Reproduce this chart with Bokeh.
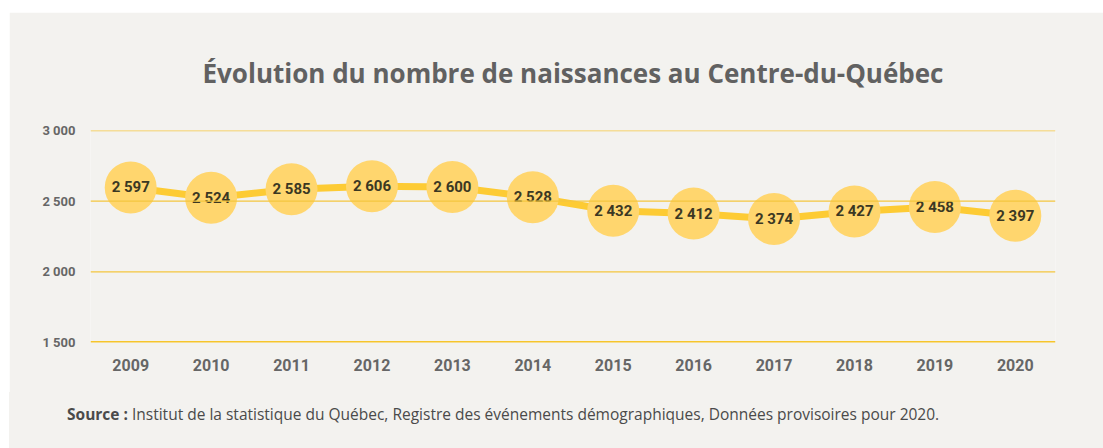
from bokeh.plotting import figure
from bokeh.models import FixedTicker, Span, ColumnDataSource, FactorRange, Range1d, Div
from bokeh.layouts import column
from bokeh.core.properties import value
from bokeh.embed import file_html
from bokeh.resources import INLINE

years = ["2009", "2010", "2011", "2012", "2013", "2014", "2015", "2016", "2017", "2018", "2019", "2020"]
births = [2597, 2524, 2585, 2606, 2600, 2528, 2432, 2412, 2374, 2427, 2458, 2397]
labels = ["2 597", "2 524", "2 585", "2 606", "2 600", "2 528", "2 432", "2 412", "2 374", "2 427", "2 458", "2 397"]
y_ticks = [1500, 2000, 2500, 3000]
y_tick_labels = ["1 500", "2 000", "2 500", "3 000"]
title_text = "Évolution du nombre de naissances au Centre-du-Québec"
source_bold = "Source :"
source_text = "Institut de la statistique du Québec, Registre des événements démographiques, Données provisoires pour 2020."

BG = "#f3f2ef"
NUM_FONT = "Roboto"

src = ColumnDataSource(dict(x=years, y=births, t=labels))

p = figure(width=1094, height=380, output_backend="svg", toolbar_location=None,
           x_range=FactorRange(*years, range_padding=0), y_range=Range1d(1500, 3000),
           min_border_left=81, min_border_right=48, min_border_top=117, min_border_bottom=50,
           title=title_text, margin=(0, 0, 0, 0))
p.background_fill_color = BG
p.border_fill_color = BG
p.outline_line_color = None

p.title.align = "center"
p.title.text_font = "Open Sans"
p.title.text_font_style = "bold"
p.title.text_font_size = "26px"
p.title.text_color = "#616161"
p.title.standoff = 80

p.xgrid.grid_line_color = None
p.ygrid.grid_line_color = None
p.yaxis.ticker = FixedTicker(ticks=y_ticks)
p.yaxis.major_label_overrides = dict(zip(y_ticks, y_tick_labels))

for t in y_ticks[1:]:
    p.add_layout(Span(location=t, dimension="width", line_color="#f4c63f", line_width=1.3))
p.add_layout(Span(location=y_ticks[0], dimension="width", line_color="#f6c52c", line_width=3))

for ax in (p.xaxis, p.yaxis):
    ax.axis_line_color = None
    ax.major_tick_line_color = None
    ax.minor_tick_line_color = None
    ax.major_label_text_color = "#666666"
    ax.major_label_text_font = NUM_FONT
    ax.major_label_text_font_style = "bold"
p.yaxis.major_label_text_font_size = "13px"
p.yaxis.major_label_standoff = 9
p.xaxis.major_label_text_font_size = "16px"
p.xaxis.major_label_standoff = 10

p.line("x", "y", source=src, line_color="#fdcb34", line_width=7)
p.scatter("x", "y", source=src, size=52, fill_color="#ffd66e", line_color=None)
p.text("x", "y", text="t", source=src, text_align="center", text_baseline="middle",
       text_font=value(NUM_FONT), text_font_style="bold", text_font_size="15px",
       text_color="#3b3823")

div = Div(text=f"<b>{source_bold}</b> {source_text}", width=1094, height=56,
          margin=(0, 0, 0, 0),
          styles={"background-color": BG, "font-family": "'Open Sans', sans-serif",
                  "font-size": "15.5px", "color": "#4a4a4a",
                  "padding-left": "58px", "padding-top": "11px",
                  "box-sizing": "border-box", "width": "1094px", "height": "56px"})

layout = column(p, div, spacing=0, margin=(12, 0, 0, 9))

open("out.html", "w").write(file_html(layout, INLINE))
